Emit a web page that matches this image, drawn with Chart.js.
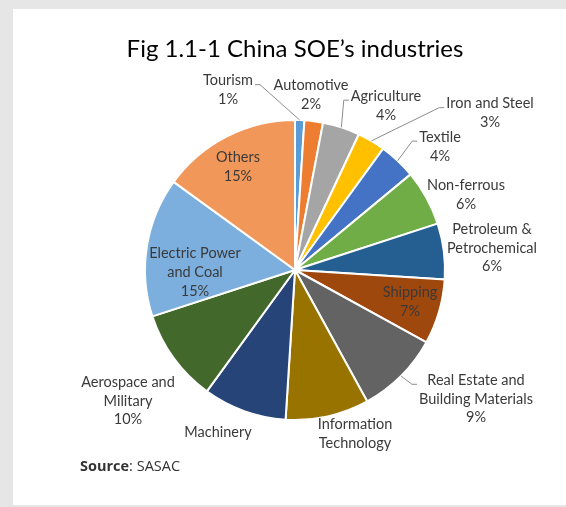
<!DOCTYPE html>
<html>
<head>
<meta charset="utf-8">
<script src="https://cdn.jsdelivr.net/npm/chart.js@4.4.0/dist/chart.umd.min.js"></script>
<style>
  html, body { margin: 0; padding: 0; background: #e6e6e6; }
  #painel { position: absolute; left: 13px; top: 9px; width: 553px; height: 496px; background: #fff; }
  canvas { display: block; }
</style>
</head>
<body>
<div id="painel"><canvas id="graficoSetores" width="553" height="496"></canvas></div>
<script>
// Setores (cada item é uma lista de linhas do rótulo)
const setores = [
  ['Tourism'], ['Automotive'], ['Agriculture'], ['Iron and Steel'], ['Textile'],
  ['Non-ferrous'], ['Petroleum &', 'Petrochemical'], ['Shipping'],
  ['Real Estate and', 'Building Materials'], ['Information', 'Technology'],
  ['Machinery'], ['Aerospace and', 'Military'], ['Electric Power', 'and Coal'], ['Others']
];
const percentuais = [1, 2, 4, 3, 4, 6, 6, 7, 9, 9, 9, 10, 15, 15];
const mostraPercentual = [true, true, true, true, true, true, true, true, true, false, false, true, true, true];
const cores = [
  '#5B9BD5', '#ED7D31', '#A5A5A5', '#FFC000', '#4472C4', '#70AD47', '#255E91',
  '#9E480E', '#636363', '#997300', '#264478', '#43682B', '#7CAFDD', '#F1975A'
];

// Centro de cada rótulo relativo ao centro da pizza (px) e lado da linha-guia
const posRotulos = [
  [-67, -180], [16, -175], [91, -164.5], [195, -157], [145, -123.5], [171, -75.5],
  [197, -22], [115, 31.5], [181, 129], [60, 164], [-77, 162], [-167, 131], [-100, 2.5], [-57, -103]
];
const linhasGuia = ['direita', null, 'esquerda', 'esquerda', 'esquerda', null, null, null, 'esquerda', null, null, null, null, null];

const FONTE_ROTULO = '14.5px Lato';
const ALTURA_LINHA = 18.7;

const pluginRotulos = {
  id: 'rotulosSetores',
  afterDatasetsDraw(chart) {
    const ctx = chart.ctx;
    const arcos = chart.getDatasetMeta(0).data;
    ctx.save();
    ctx.font = FONTE_ROTULO;
    ctx.textAlign = 'center';
    ctx.textBaseline = 'middle';
    arcos.forEach((arco, i) => {
      const { x, y, startAngle, endAngle, outerRadius } =
        arco.getProps(['x', 'y', 'startAngle', 'endAngle', 'outerRadius'], true);
      const linhas = setores[i].slice();
      if (mostraPercentual[i]) linhas.push(percentuais[i] + '%');
      const cx = x + posRotulos[i][0];
      const cy = y + posRotulos[i][1];
      const y0 = cy - (linhas.length - 1) * ALTURA_LINHA / 2;
      ctx.fillStyle = '#3a3a3a';
      linhas.forEach((l, k) => ctx.fillText(l, cx, y0 + k * ALTURA_LINHA));

      // linha-guia até o meio da borda externa da fatia
      const lado = linhasGuia[i];
      if (lado) {
        const larg = Math.max(...linhas.map(l => ctx.measureText(l).width));
        const sentido = lado === 'esquerda' ? -1 : 1;
        const px = cx + sentido * (larg / 2 + 2);
        const py = y0 + 4;
        const ex = px + sentido * 5;
        const meio = (startAngle + endAngle) / 2;
        const ax = x + Math.cos(meio) * outerRadius;
        const ay = y + Math.sin(meio) * outerRadius;
        ctx.strokeStyle = '#8c8c8c';
        ctx.lineWidth = 1;
        ctx.beginPath();
        ctx.moveTo(px, py);
        ctx.lineTo(ex, py);
        ctx.lineTo(ax, ay);
        ctx.stroke();
      }
    });
    ctx.restore();
  },
  afterDraw(chart) {
    const ctx = chart.ctx;
    ctx.save();
    // título
    ctx.font = '24px Lato';
    ctx.fillStyle = '#000';
    ctx.textAlign = 'center';
    ctx.textBaseline = 'alphabetic';
    ctx.fillText('Fig 1.1-1 China SOE’s industries', 282, 48);
    // fonte dos dados
    ctx.textAlign = 'left';
    ctx.fillStyle = '#333';
    ctx.font = 'bold 14.5px "Open Sans"';
    ctx.fillText('Source', 67, 462);
    const w = ctx.measureText('Source').width;
    ctx.font = '14.5px "Open Sans"';
    ctx.fillText(': SASAC', 67 + w, 462);
    ctx.restore();
  }
};

const ctx = document.getElementById('graficoSetores').getContext('2d');
new Chart(ctx, {
  type: 'pie',
  data: {
    labels: setores.map(s => s.join(' ')),
    datasets: [{
      data: percentuais,
      backgroundColor: cores,
      borderColor: '#fff',
      borderWidth: 2
    }]
  },
  options: {
    responsive: false,
    animation: false,
    radius: 150,
    layout: {
      padding: { left: 131, right: 120, top: 110, bottom: 84 }
    },
    plugins: {
      legend: { display: false },
      tooltip: { enabled: false },
      title: { display: false }
    }
  },
  plugins: [pluginRotulos]
});
</script>
</body>
</html>
